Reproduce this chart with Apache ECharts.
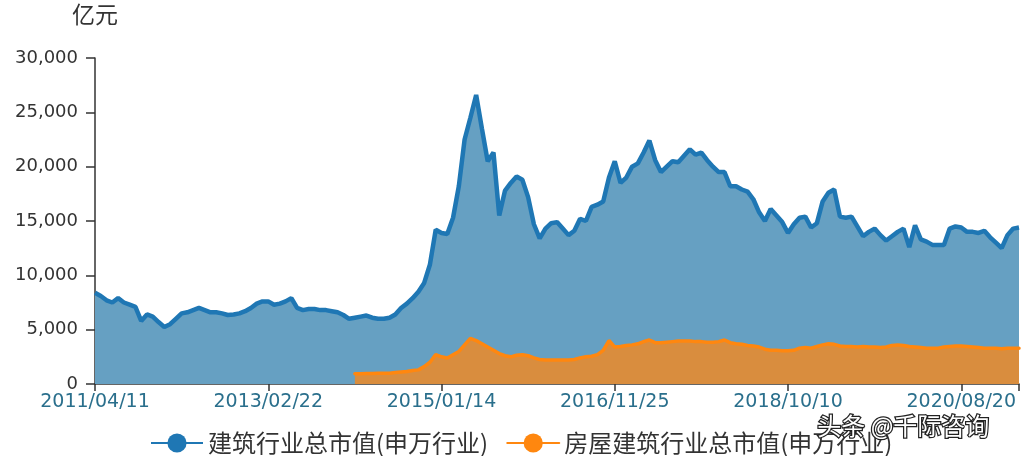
<!DOCTYPE html>
<html>
<head>
<meta charset="utf-8">
<script src="https://cdn.jsdelivr.net/npm/echarts@6/dist/echarts.min.js"></script>
<style>
  html, body { margin: 0; padding: 0; background: #fff; }
  #chart { width: 1024px; height: 456px; }
</style>
</head>
<body>
<div id="chart"></div>
<script>
// x轴刻度标签（每30个点一个）
const tickLabels = ['2011/04/11', '2013/02/22', '2015/01/14', '2016/11/25', '2018/10/10', '2020/08/20'];
const tickStep = 30;

// 建筑行业总市值(申万行业)，亿元
const totalValue = [
  8400, 8100, 7700, 7500, 7900, 7500, 7300, 7100, 5800, 6400,
  6200, 5700, 5250, 5500, 6000, 6500, 6600, 6800, 7000, 6800,
  6600, 6600, 6500, 6350, 6400, 6500, 6700, 7000, 7400, 7600,
  7600, 7300, 7400, 7600, 7900, 7000, 6800, 6900, 6900, 6800,
  6800, 6700, 6600, 6350, 6000, 6100, 6200, 6300, 6100, 6000,
  6000, 6100, 6400, 7000, 7400, 7900, 8500, 9300, 11000, 14200,
  13900, 13800, 15300, 18200, 22500, 24500, 26600, 23500, 20500, 21300,
  15500, 17800, 18500, 19100, 18800, 17200, 14700, 13400, 14300, 14800,
  14900, 14300, 13700, 14100, 15200, 15000, 16300, 16500, 16800, 19000,
  20500, 18500, 19000, 20000, 20300, 21300, 22400, 20600, 19500, 20000,
  20500, 20400, 21000, 21600, 21100, 21300, 20600, 20000, 19500, 19500,
  18200, 18200, 17900, 17700, 17000, 15800, 15000, 16100, 15500, 14900,
  13900, 14700, 15300, 15400, 14400, 14800, 16800, 17600, 17900, 15400,
  15300, 15400, 14500, 13600, 14000, 14300, 13700, 13200, 13600, 14000,
  14300, 12600, 14600, 13300, 13100, 12800, 12800, 12800, 14300, 14500,
  14400, 14000, 14000, 13900, 14100, 13500, 13000, 12500, 13700, 14300,
  14400
];

// 房屋建筑行业总市值(申万行业)，从第45个点开始
const houseStart = 45;
const houseValue = [
  950, 950, 960, 970, 980,
  980, 1000, 1050, 1100, 1150, 1250, 1300, 1600, 2000, 2700,
  2500, 2400, 2700, 3000, 3600, 4200, 4000, 3700, 3400, 3100,
  2800, 2600, 2500, 2650, 2700, 2600, 2400, 2250, 2200, 2200,
  2200, 2200, 2200, 2250, 2400, 2500, 2550, 2700, 3100, 4000,
  3400, 3450, 3550, 3600, 3700, 3900, 4050, 3800, 3800, 3850,
  3900, 3950, 3950, 3950, 3900, 3900, 3850, 3850, 3900, 4050,
  3800, 3700, 3650, 3550, 3500, 3400, 3200, 3100, 3100, 3050,
  3050, 3100, 3300, 3350, 3300, 3450, 3600, 3700, 3650, 3500,
  3450, 3450, 3400, 3450, 3400, 3400, 3350, 3400, 3550, 3600,
  3550, 3450, 3400, 3350, 3300, 3300, 3300, 3400, 3450, 3500,
  3500, 3450, 3400, 3350, 3300, 3300, 3300, 3250, 3300, 3300,
  3300
];

const categories = totalValue.map((_, i) => (i % tickStep === 0 ? tickLabels[i / tickStep] : ''));
const houseData = new Array(houseStart).fill(null).concat(houseValue);

const chart = echarts.init(document.getElementById('chart'));
const font = "'Noto Sans CJK SC', 'Noto Sans', sans-serif";
const numFont = "'DejaVu Sans', sans-serif";

chart.setOption({
  animation: false,
  textStyle: { fontFamily: font },
  grid: { left: 95, right: 5, top: 58, bottom: 72, containLabel: false },
  legend: {
    left: 145,
    top: 426,
    itemWidth: 52,
    itemHeight: 24,
    itemGap: 18,
    textStyle: { fontSize: 24, color: '#333', fontFamily: font },
    data: ['建筑行业总市值(申万行业)', '房屋建筑行业总市值(申万行业)']
  },
  xAxis: {
    type: 'category',
    boundaryGap: false,
    data: categories,
    axisLine: { lineStyle: { color: '#333', width: 1.5 } },
    axisTick: {
      length: 7,
      interval: (idx) => idx % tickStep === 0 || idx === categories.length - 1,
      lineStyle: { color: '#333', width: 1.5 }
    },
    axisLabel: {
      interval: (idx) => idx % tickStep === 0,
      color: '#2a6f8c',
      fontSize: 19,
      fontFamily: numFont,
      margin: 9
    },
    splitLine: { show: false }
  },
  yAxis: {
    type: 'value',
    min: 0,
    max: 30000,
    interval: 5000,
    name: '亿元',
    nameGap: 32,
    nameTextStyle: { fontSize: 23, color: '#333', align: 'center' },
    axisLine: { show: true, lineStyle: { color: '#333', width: 1.5 } },
    axisTick: { show: true, length: 9, lineStyle: { color: '#333', width: 1.5 } },
    axisLabel: {
      fontSize: 18,
      color: '#333',
      fontFamily: numFont,
      margin: 17,
      formatter: (v) => v.toLocaleString('en-US')
    },
    splitLine: { show: false }
  },
  series: [
    {
      name: '建筑行业总市值(申万行业)',
      type: 'line',
      data: totalValue,
      symbol: 'circle',
      showSymbol: false,
      lineStyle: { color: '#1f77b4', width: 4.5 },
      itemStyle: { color: '#1f77b4' },
      areaStyle: { color: '#66a0c2', opacity: 1 }
    },
    {
      name: '房屋建筑行业总市值(申万行业)',
      type: 'line',
      data: houseData,
      symbol: 'circle',
      showSymbol: false,
      lineStyle: { color: '#ff870f', width: 3.5, cap: 'round' },
      itemStyle: { color: '#ff870f' },
      areaStyle: { color: '#d98d3e', opacity: 1 }
    }
  ],
  graphic: [
    {
      type: 'text',
      left: 816,
      top: 413,
      z: 100,
      style: {
        text: '头条 @千际咨询',
        font: "24px 'Noto Sans CJK SC'",
        fill: '#fff',
        stroke: '#222',
        lineWidth: 2.5
      }
    }
  ]
});
</script>
</body>
</html>
